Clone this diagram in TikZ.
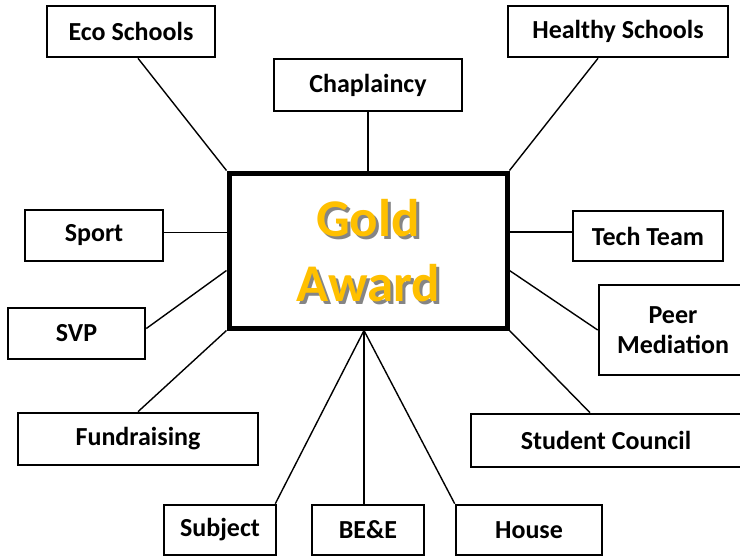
\documentclass[tikz,border=0pt]{standalone}
\usepackage{fontspec}
\setmainfont{Carlito}
\usepackage{xcolor}
\usetikzlibrary{calc}
\definecolor{ink}{HTML}{000000}
\definecolor{awardgold}{HTML}{FFC000}
\definecolor{shadowgray}{HTML}{858585}
\tikzset{
  tagbox/.style={draw=ink,fill=white,line width=2.6pt,inner sep=0pt,
                 align=center,font=\fontsize{26}{30}\selectfont\bfseries},
  awardbox/.style={draw=ink,fill=white,line width=5pt,inner sep=0pt,
                   minimum width=278pt,minimum height=155pt},
  awardtext/.style={align=center,inner sep=0pt,
                    font=\fontsize{53}{65}\selectfont\bfseries},
  spoke/.style={draw=ink,line width=1.4pt}
}

\begin{document}
\begin{tikzpicture}[x=1pt,y=-1pt]
    \useasboundingbox (0,0) rectangle (740,558);
    \clip (0,0) rectangle (740,558);

    % centre
    \node[awardbox] (gold) at (368,250.5) {};
    \node[awardtext,text=shadowgray] (goldshadow) at (371,253.5) {Gold\\Award};
    \node[awardtext,text=awardgold] (goldtext) at (368,250.5) {Gold\\Award};

    % top row
    \node[tagbox,minimum width=168pt,minimum height=51pt] (eco) at (131,31.5)
      {Eco Schools};
    \node[tagbox,minimum width=188pt,minimum height=52pt] (chap) at (368,85)
      {Chaplaincy};
    \node[tagbox,minimum width=220pt,minimum height=51pt] (healthy) at (618,31.5)
      {Healthy Schools};

    % left side
    \node[tagbox,minimum width=138pt,minimum height=51pt] (sport) at (94,235.5)
      {Sport};
    \node[tagbox,minimum width=137pt,minimum height=51pt] (svp) at (76.5,333.5)
      {SVP};
    \node[tagbox,minimum width=240pt,minimum height=52pt] (fund) at (138,439)
      {Fundraising};

    % right side
    \node[tagbox,minimum width=150pt,minimum height=50pt] (tech) at (648,236)
      {Tech Team};
    \node[tagbox,minimum width=148pt,minimum height=90pt] (peer) at (673,330)
      {Peer\\Mediation};
    \node[tagbox,minimum width=270pt,minimum height=53pt] (council) at (606,440.5)
      {Student Council};

    % bottom row
    \node[tagbox,minimum width=112pt,minimum height=50pt] (subj) at (220,530)
      {Subject};
    \node[tagbox,minimum width=112pt,minimum height=50pt] (bee) at (368,530)
      {BE\&E};
    \node[tagbox,minimum width=146pt,minimum height=50pt] (house) at (529,530)
      {House};

    % spokes
    \draw[spoke] ([xshift=7pt]eco.south) -- (gold.north west);
    \draw[spoke] (chap.south) -- (chap.south |- gold.north);
    \draw[spoke] ([xshift=-20pt]healthy.south) -- (gold.north east);
    \draw[spoke] ([yshift=3pt]sport.east) -- ([yshift=3pt]sport.east -| gold.west);
    \draw[spoke] ([yshift=4pt]tech.west) -- ([yshift=4pt]tech.west -| gold.east);
    \draw[spoke] ([yshift=5pt]svp.east) -- ([yshift=-20pt]gold.west);
    \draw[spoke] (peer.west) -- ([yshift=-20pt]gold.east);
    \draw[spoke] (fund.north) -- (gold.south west);
    \draw[spoke] ([xshift=-16pt]council.north) -- (gold.south east);
    \draw[spoke] ([xshift=-2pt]subj.north east) -- ([xshift=-4pt]gold.south);
    \draw[spoke] ([xshift=-4pt]bee.north) -- ([xshift=-4pt]gold.south);
    \draw[spoke] (house.north west) -- ([xshift=-4pt]gold.south);
  \end{tikzpicture}
\end{document}
